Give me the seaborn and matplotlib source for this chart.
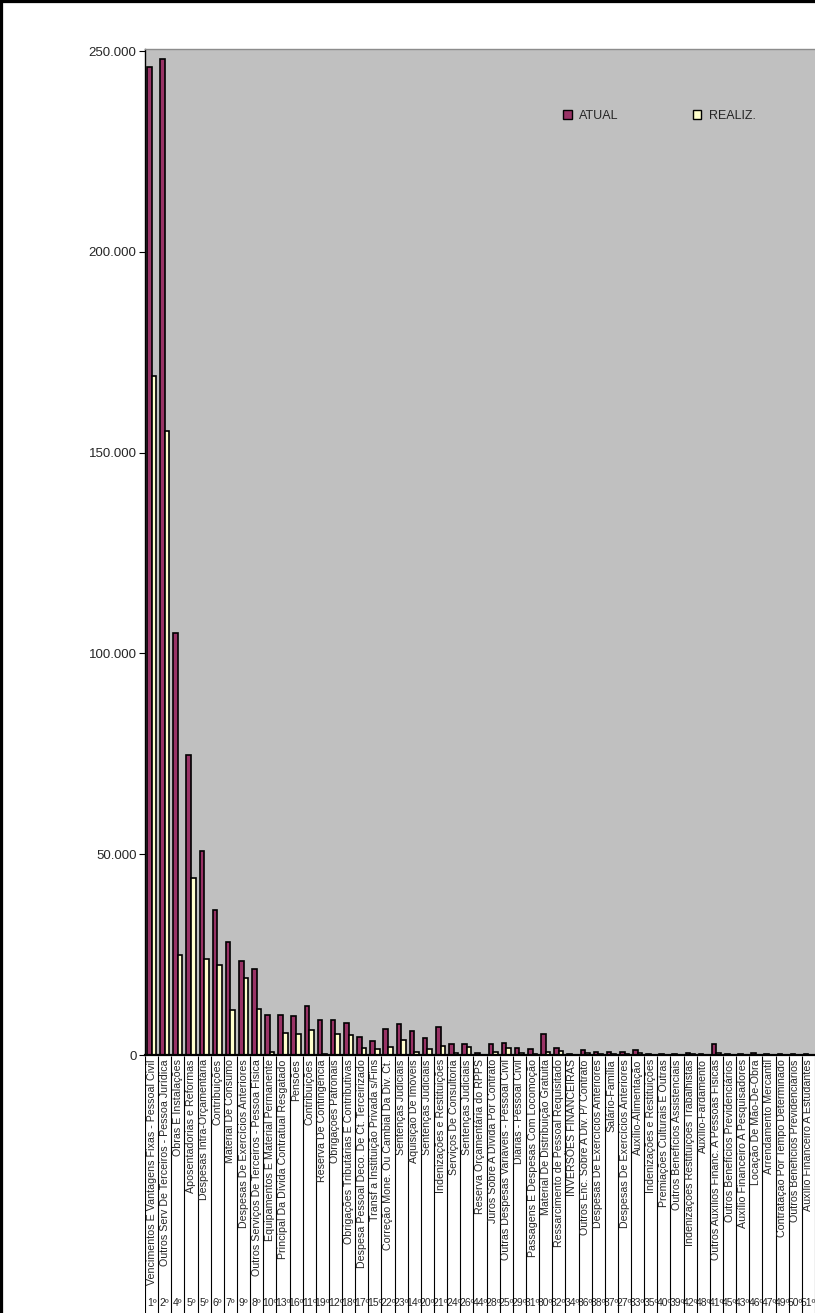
import numpy as np
import pandas as pd
import matplotlib
matplotlib.use("Agg")
import matplotlib.pyplot as plt
import seaborn as sns
from matplotlib.lines import Line2D
from matplotlib.ticker import FuncFormatter

categorias = [
    "Vencimentos E Vantagens Fixas - Pessoal Civil",
    "Outros Serv De Terceiros - Pessoa Jurídica",
    "Obras E Instalações",
    "Aposentadorias e Reformas",
    "Despesas Intra-Orçamentária",
    "Contribuições",
    "Material De Consumo",
    "Despesas De Exercícios Anteriores",
    "Outros Serviços De Terceiros - Pessoa Física",
    "Equipamentos E Material Permanente",
    "Principal Da Dívida Contratual Resgatado",
    "Pensões",
    "Contribuições",
    "Reserva De Contingência",
    "Obrigações Patronais",
    "Obrigações Tributárias E Contributivas",
    "Despesa Pessoal Deco. De Ct. Terceirizado",
    "Transf a Instituição Privada s/Fins",
    "Correção Mone. Ou Cambial Da Div. Ct.",
    "Sentenças Judiciais",
    "Aquisição De Imóveis",
    "Sentenças Judiciais",
    "Indenizações e Restituições",
    "Serviços De Consultoria",
    "Sentenças Judiciais",
    "Reserva Orçamentária do RPPS",
    "Juros Sobre A Dívida Por Contrato",
    "Outras Despesas Variáveis - Pessoal Civil",
    "Diárias - Pessoal Civil",
    "Passagens E Despesas Com Locomoção",
    "Material De Distribuição Gratuita",
    "Ressarcimento de Pessoal Requisitado",
    "INVERSÕES FINANCEIRAS",
    "Outros Enc. Sobre A Div. P/ Contrato",
    "Despesas De Exercícios Anteriores",
    "Salário-Família",
    "Despesas De Exercícios Anteriores",
    "Auxílio-Alimentação",
    "Indenizações e Restituições",
    "Premiações Culturais E Outras",
    "Outros Benefícios Assistenciais",
    "Indenizações Restituições Trabalhistas",
    "Auxílio-Fardamento",
    "Outros Auxílios Financ. A Pessoas Físicas",
    "Outros Benefícios Previdenciários",
    "Auxílio Financeiro A Pesquisadores",
    "Locação De Mão-De-Obra",
    "Arrendamento Mercantil",
    "Contratação Por Tempo Determinado",
    "Outros Benefícios Previdenciários",
    "Auxílio Financeiro A Estudantes",
]

ranking = ["1º", "2º", "4º", "5º", "5º", "6º", "7º", "9º", "8º", "10º",
           "13º", "16º", "11º", "19º", "12º", "18º", "17º", "15º", "22º", "23º",
           "14º", "20º", "21º", "24º", "26º", "44º", "28º", "25º", "29º", "31º",
           "30º", "32º", "34º", "36º", "38º", "37º", "27º", "33º", "35º", "40º",
           "39º", "42º", "48º", "41º", "45º", "43º", "46º", "47º", "49º", "50º",
           "51º"]

atual = [246000, 248000, 105000, 74600, 50800, 36000, 28200, 23400, 21300, 10000,
         9900, 9700, 12100, 8600, 8700, 8000, 4500, 3400, 6500, 7800,
         6100, 4300, 7050, 2800, 2800, 400, 2650, 3070, 1830, 1400,
         5150, 1830, 300, 1330, 750, 830, 830, 1160, 300, 300,
         300, 500, 250, 2650, 200, 200, 400, 200, 200, 200,
         200]

realiz = [169000, 155500, 25000, 44150, 24000, 22400, 11200, 19200, 11500, 830,
          5560, 5300, 6200, 200, 5300, 5000, 1660, 1580, 2000, 3650,
          830, 1580, 2240, 400, 2100, 100, 830, 1830, 580, 300,
          750, 1000, 50, 500, 300, 300, 300, 580, 100, 100,
          100, 200, 100, 400, 50, 50, 100, 50, 50, 50,
          50]

n = len(categorias)
df = pd.DataFrame({"pos": np.arange(n), "ATUAL": atual, "REALIZ.": realiz})
long = df.melt(id_vars="pos", value_vars=["ATUAL", "REALIZ."],
               var_name="serie", value_name="valor")

sns.set_style("white")
plt.rcParams["font.family"] = ["Liberation Sans", "DejaVu Sans"]

W, H = 815, 1313
fig = plt.figure(figsize=(W / 100, H / 100), dpi=100)
fig.patch.set_facecolor("white")

# area do grafico
ax = fig.add_axes([145 / W, 1 - 1055 / H, 1 - 145 / W, (1055 - 49) / H])
ax.set_facecolor("#C0C0C0")
sns.barplot(data=long, x="pos", y="valor", hue="serie",
            palette={"ATUAL": "#993366", "REALIZ.": "#FFFFCC"},
            width=0.7, saturation=1, edgecolor="black", linewidth=1.2,
            ax=ax)

ax.set_xlim(-0.5, n - 0.5)
ax.set_ylim(0, 250500)
ax.set_yticks(np.arange(0, 250001, 50000))
ax.yaxis.set_major_formatter(FuncFormatter(lambda v, p: f"{int(v):,}".replace(",", ".")))
ax.tick_params(axis="y", length=4, width=0.8, color="black", labelsize=9.5, pad=2, left=True)
ax.set_xticks(np.arange(n))
ax.set_xticklabels(categorias, rotation=90, fontsize=7.7)
ax.tick_params(axis="x", length=0, pad=3)
ax.set_xlabel("")
ax.set_ylabel("")
for s in ["left", "bottom"]:
    ax.spines[s].set_color("black")
ax.spines["left"].set_linewidth(1.0)
ax.spines["bottom"].set_linewidth(1.6)
ax.spines["top"].set_color("#8c8c8c")
ax.spines["top"].set_linewidth(1.0)
ax.spines["right"].set_visible(False)

handles, labels = ax.get_legend_handles_labels()
for h in handles:
    h.set_edgecolor("black")
    h.set_linewidth(1.0)
ax.legend(handles, labels, ncol=2, frameon=False, fontsize=9,
          loc="center left", bbox_to_anchor=(563 / W, 1 - 116 / H),
          bbox_transform=fig.transFigure, borderpad=0, borderaxespad=0,
          handlelength=0.7, handleheight=0.7, handletextpad=0.6,
          columnspacing=5.9)

# faixa dos rotulos com divisorias e classificacao
lab = fig.add_axes([145 / W, 0, 1 - 145 / W, (H - 1056) / H])
lab.patch.set_visible(False)
lab.set_zorder(-1)
lab.set_xlim(-0.5, n - 0.5)
lab.set_ylim(0, 1)
lab.vlines(np.arange(n + 1) - 0.5, 0, 1, color="black", linewidth=0.8)
lab.set_xticks(np.arange(n))
lab.set_xticklabels(ranking, fontsize=7.5)
lab.tick_params(axis="x", length=0, pad=-11)
lab.set_yticks([])
for s in lab.spines.values():
    s.set_visible(False)

# moldura
fig.add_artist(Line2D([0, 1], [1, 1], transform=fig.transFigure, color="black", linewidth=4.5))
fig.add_artist(Line2D([0, 0], [0, 1], transform=fig.transFigure, color="black", linewidth=4.5))

fig.savefig("out.png", dpi=100)
